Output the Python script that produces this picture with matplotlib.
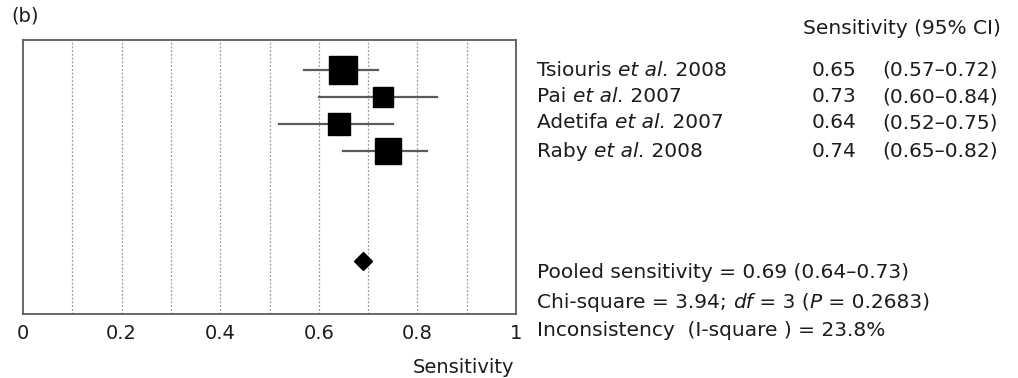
"""Forest plot (b) - sensibilite des etudes."""

import matplotlib

matplotlib.use("Agg")
import matplotlib.pyplot as plt
from matplotlib.text import Annotation

# Donnees
studies = ["Tsiouris", "Pai", "Adetifa", "Raby"]
years = ["2008", "2007", "2007", "2008"]
sens = [0.65, 0.73, 0.64, 0.74]
ci_low = [0.57, 0.60, 0.52, 0.65]
ci_high = [0.72, 0.84, 0.75, 0.82]
box_size = [19.5, 15.0, 16.5, 18.5]  # taille relative des carres (poids)
pooled = 0.69
pooled_low = 0.64
pooled_high = 0.73
chi2 = 3.94
dof = 3
p_value = 0.2683
i2 = 23.8
xticks = [0, 0.2, 0.4, 0.6, 0.8, 1]
xticklabels = ["0", "0.2", "0.4", "0.6", "0.8", "1"]

plt.rcParams["font.family"] = ["DejaVu Sans"]
TXT = "#1c1c1c"
FS = 14
FS_R = 14.5  # texte de la colonne droite

fig = plt.figure(figsize=(10.18, 3.78), dpi=100)
ax = fig.add_axes([0.0226, 0.169, 0.4843, 0.725])

rows = list(range(len(studies)))
pooled_row = 7.1

# grille verticale pointillee
for x in [i / 10 for i in range(1, 10)]:
    ax.axvline(x, color="#9a9a9a", lw=0.9, ls=(0, (1.5, 1.5)), zorder=0)

for r, s, lo, hi, b in zip(rows, sens, ci_low, ci_high, box_size):
    ax.plot([lo, hi], [r, r], color="#5a5a5a", lw=1.6, zorder=1)
    ax.plot(s, r, marker="s", ms=b, color="black", zorder=2)
ax.plot(pooled, pooled_row, marker="D", ms=9, color="black", zorder=2)

ax.set_xlim(0, 1)
ax.set_ylim(9.05, -1.1)
ax.set_yticks([])
ax.set_xticks(xticks)
ax.set_xticklabels(xticklabels, fontsize=FS, color=TXT)
ax.tick_params(axis="x", length=0, pad=7)
for sp in ax.spines.values():
    sp.set_color("#5c5c5c")
    sp.set_linewidth(1.3)

fig.text(0.505, 0.029, "Sensitivity", fontsize=FS, color=TXT, ha="right", va="center")
fig.text(0.011, 0.958, "(b)", fontsize=FS, color=TXT, ha="left", va="center")


def write(x, y, parts):
    """Ecrit une ligne en morceaux (normal / italique) mis bout a bout."""
    prev = fig.text(x, y, parts[0][0], fontsize=FS_R, color=TXT, va="center",
                    style="italic" if parts[0][1] else "normal")
    for txt, it in parts[1:]:
        prev = fig.add_artist(Annotation(
            txt, xy=(1, 0.5), xycoords=prev, va="center", ha="left",
            fontsize=FS_R, color=TXT, style="italic" if it else "normal"))


def ypix(p):
    return 1 - p / 378


# colonne droite
fig.text(803 / 1018, ypix(29), "Sensitivity (95% CI)", fontsize=FS_R, color=TXT,
         va="center")
row_px = [70, 97, 123, 151]
for name, yr, s, lo, hi, yp in zip(studies, years, sens, ci_low, ci_high, row_px):
    write(537 / 1018, ypix(yp), [(name + " ", False), ("et al.", True),
                                  (" " + yr, False)])
    fig.text(812 / 1018, ypix(yp), f"{s:.2f}", fontsize=FS_R, color=TXT, va="center")
    fig.text(882 / 1018, ypix(yp), f"({lo:.2f}\u2013{hi:.2f})", fontsize=FS_R,
             color=TXT, va="center")

write(537 / 1018, ypix(273),
      [(f"Pooled sensitivity = {pooled:.2f} ({pooled_low:.2f}\u2013{pooled_high:.2f})", False)])
write(537 / 1018, ypix(302),
      [(f"Chi-square = {chi2:.2f}; ", False), ("df", True), (f" = {dof} (", False),
       ("P", True), (f" = {p_value:.4f})", False)])
write(537 / 1018, ypix(330),
      [(f"Inconsistency  (I-square ) = {i2:.1f}%", False)])

plt.savefig("out.png", dpi=100)
plt.close()
